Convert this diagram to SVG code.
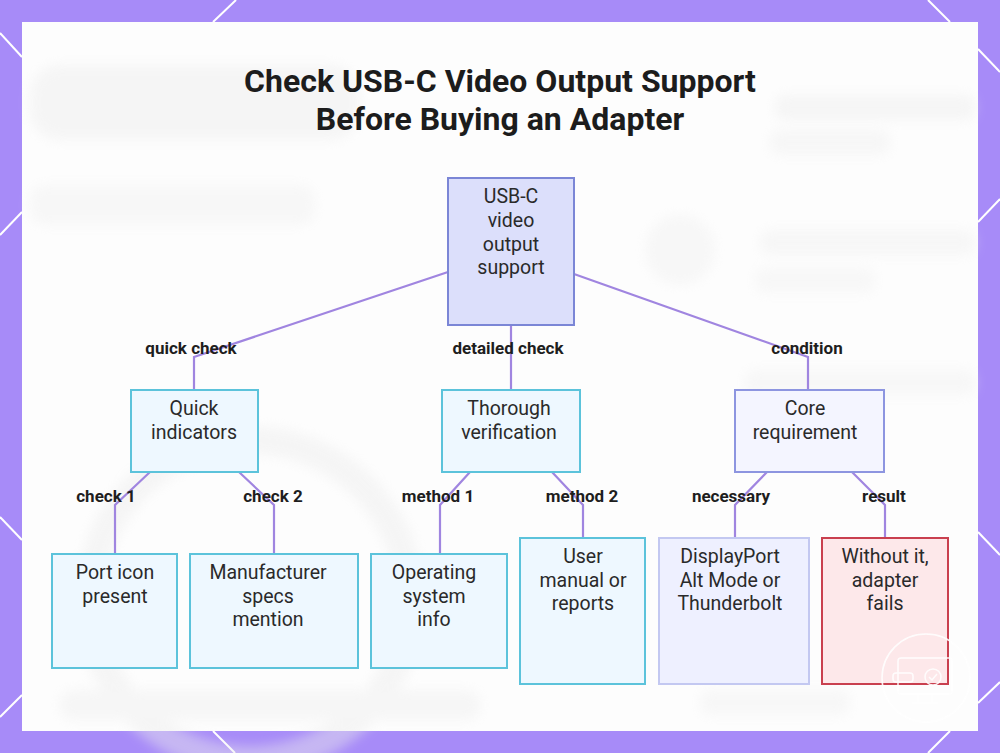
<svg xmlns="http://www.w3.org/2000/svg" width="1000" height="753" viewBox="0 0 1000 753">
<defs>
<style>
.frame-line{stroke:#ffffff;stroke-width:2;fill:none}
.edge{stroke:#a085e0;stroke-width:2.2;fill:none}
.lbl{font-family:Roboto,"Liberation Sans",sans-serif;font-size:17px;font-weight:700;fill:#1e1e1e;text-anchor:middle}
.ntx{font-family:Roboto,"Liberation Sans",sans-serif;font-size:19.5px;fill:#2a2a2a;text-anchor:middle}
.title{font-family:Roboto,"Liberation Sans",sans-serif;font-size:32px;font-weight:700;fill:#1c1c1c;text-anchor:middle}
.root{fill:#dcdffb;stroke:#7b86d6;stroke-width:2}
.cyan{fill:#eef8ff;stroke:#5cc3db;stroke-width:2}
.lav{fill:#f4f5ff;stroke:#8d95e0;stroke-width:2}
.lav2{fill:#eef0ff;stroke:#c3c8f1;stroke-width:2}
.red{fill:#fde8ea;stroke:#c9404f;stroke-width:2}
</style>
<filter id="blur" x="-20%" y="-20%" width="140%" height="140%"><feGaussianBlur stdDeviation="6"/></filter>
</defs>
<rect x="0" y="0" width="1000" height="753" fill="#a78bf8"/>
<g class="frame-line">
<line x1="0" y1="33" x2="22" y2="57"/>
<line x1="213" y1="22" x2="236" y2="0"/>
<line x1="928" y1="0" x2="950" y2="22"/>
<line x1="978" y1="49" x2="1000" y2="72"/>
<line x1="0" y1="235" x2="22" y2="212"/>
<line x1="0" y1="517" x2="22" y2="540"/>
<line x1="978" y1="222" x2="1000" y2="199"/>
<line x1="978" y1="532" x2="1000" y2="555"/>
<line x1="0" y1="717" x2="22" y2="695"/>
<line x1="213" y1="731" x2="235" y2="753"/>
<line x1="978" y1="703" x2="1000" y2="682"/>
<line x1="950" y1="731" x2="928" y2="753"/>
</g>
<rect x="22" y="22" width="956" height="709" fill="#fdfdfd"/>
<g filter="url(#blur)" opacity="0.45">
<rect x="30" y="65" width="330" height="75" rx="30" fill="#ececec"/>
<rect x="30" y="185" width="285" height="40" rx="15" fill="#f0f0f0"/>
<rect x="775" y="95" width="200" height="25" rx="10" fill="#ececec"/>
<rect x="770" y="130" width="120" height="25" rx="10" fill="#efefef"/>
<circle cx="680" cy="250" r="35" fill="#f0f0f0"/>
<rect x="760" y="230" width="215" height="25" rx="10" fill="#efefef"/>
<rect x="755" y="268" width="120" height="25" rx="10" fill="#f1f1f1"/>
<rect x="745" y="370" width="230" height="25" rx="10" fill="#f0f0f0"/>
<circle cx="250" cy="600" r="160" fill="none" stroke="#ececec" stroke-width="28"/>
<rect x="60" y="690" width="420" height="30" rx="12" fill="#eeeeee"/>
<rect x="700" y="690" width="150" height="25" rx="10" fill="#f0f0f0"/>
</g>
<g id="title">
<text class="title" x="500" y="92">Check USB-C Video Output Support</text>
<text class="title" x="500" y="130">Before Buying an Adapter</text>
</g>
<g id="connectors">
<polyline class="edge" points="448,272 194,357 194,390"/>
<polyline class="edge" points="511,325 511,390"/>
<polyline class="edge" points="574,274 808,357 808,390"/>
<polyline class="edge" points="150,472 115,505 115,554"/>
<polyline class="edge" points="239,472 274,505 274,554"/>
<polyline class="edge" points="470,472 440,505 440,554"/>
<polyline class="edge" points="552,472 583,505 583,538"/>
<polyline class="edge" points="767,472 735,505 735,538"/>
<polyline class="edge" points="852,472 885,505 885,538"/>
<text class="lbl" x="191" y="354">quick check</text>
<text class="lbl" x="508" y="354">detailed check</text>
<text class="lbl" x="807" y="354">condition</text>
<text class="lbl" x="106" y="502">check 1</text>
<text class="lbl" x="273" y="502">check 2</text>
<text class="lbl" x="438" y="502">method 1</text>
<text class="lbl" x="582" y="502">method 2</text>
<text class="lbl" x="731" y="502">necessary</text>
<text class="lbl" x="884" y="502">result</text>
</g>
<g id="root">
<rect class="root" x="448" y="178" width="126" height="147"/>
<text class="ntx" x="511" y="203">USB-C</text>
<text class="ntx" x="511" y="227">video</text>
<text class="ntx" x="511" y="251">output</text>
<text class="ntx" x="511" y="274">support</text>
</g>
<g id="quick">
<rect class="cyan" x="131" y="390" width="127" height="82"/>
<text class="ntx" x="194" y="415">Quick</text>
<text class="ntx" x="194" y="439">indicators</text>
</g>
<g id="thorough">
<rect class="cyan" x="442" y="390" width="138" height="82"/>
<text class="ntx" x="509" y="415">Thorough</text>
<text class="ntx" x="509" y="439">verification</text>
</g>
<g id="core">
<rect class="lav" x="735" y="390" width="149" height="82"/>
<text class="ntx" x="805" y="415">Core</text>
<text class="ntx" x="805" y="439">requirement</text>
</g>
<g id="port">
<rect class="cyan" x="52" y="554" width="125" height="114"/>
<text class="ntx" x="115" y="579">Port icon</text>
<text class="ntx" x="115" y="603">present</text>
</g>
<g id="manufacturer">
<rect class="cyan" x="190" y="554" width="168" height="114"/>
<text class="ntx" x="268" y="579">Manufacturer</text>
<text class="ntx" x="268" y="603">specs</text>
<text class="ntx" x="268" y="626">mention</text>
</g>
<g id="os">
<rect class="cyan" x="371" y="554" width="136" height="114"/>
<text class="ntx" x="434" y="579">Operating</text>
<text class="ntx" x="434" y="603">system</text>
<text class="ntx" x="434" y="626">info</text>
</g>
<g id="manual">
<rect class="cyan" x="520" y="538" width="125" height="146"/>
<text class="ntx" x="583" y="563">User</text>
<text class="ntx" x="583" y="587">manual or</text>
<text class="ntx" x="583" y="610">reports</text>
</g>
<g id="displayport">
<rect class="lav2" x="659" y="538" width="150" height="146"/>
<text class="ntx" x="730" y="563">DisplayPort</text>
<text class="ntx" x="730" y="587">Alt Mode or</text>
<text class="ntx" x="730" y="610">Thunderbolt</text>
</g>
<g id="fails">
<rect class="red" x="822" y="538" width="126" height="146"/>
<text class="ntx" x="885" y="563">Without it,</text>
<text class="ntx" x="885" y="587">adapter</text>
<text class="ntx" x="885" y="610">fails</text>
</g>
<g id="badge" fill="none" stroke="#ffffff" stroke-width="1.5" opacity="0.9">
<circle cx="926" cy="678" r="44"/>
<rect x="898" y="658" width="54" height="36" rx="3"/>
<line x1="918" y1="694" x2="918" y2="702"/>
<line x1="932" y1="694" x2="932" y2="702"/>
<line x1="912" y1="703" x2="938" y2="703"/>
<rect x="893" y="673" width="20" height="9" rx="3"/>
<circle cx="933" cy="677" r="8"/>
<polyline points="929,677 932,680 937,674"/>
</g>
</svg>
